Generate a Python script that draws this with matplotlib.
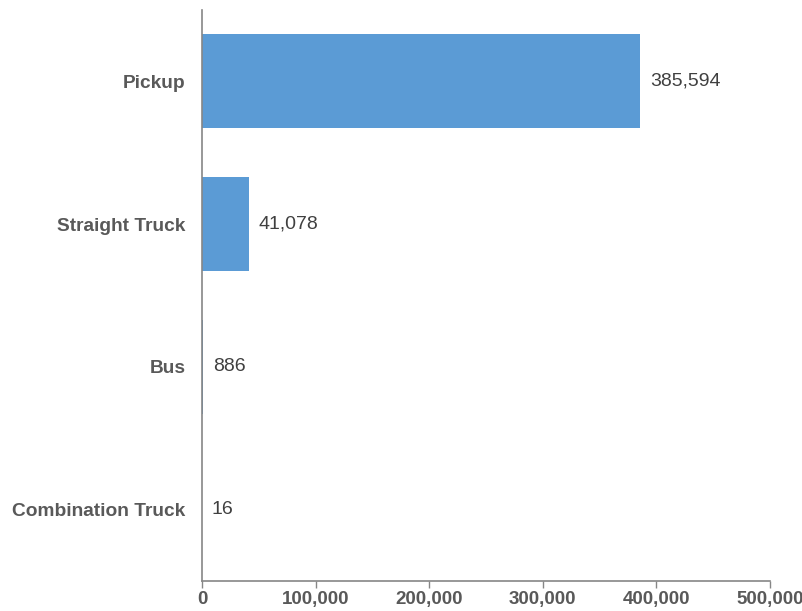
import matplotlib
matplotlib.use("Agg")
import matplotlib.pyplot as plt
from matplotlib.ticker import FuncFormatter

categories = ["Pickup", "Straight Truck", "Bus", "Combination Truck"]
values = [385594, 41078, 886, 16]
x_ticks = [0, 100000, 200000, 300000, 400000, 500000]

plt.rcParams['font.family'] = ['Liberation Sans', 'DejaVu Sans']

fig = plt.figure(figsize=(8.02, 6.11), dpi=100)
ax = fig.add_axes([202/802, 1-581/611, (770-202)/802, (581-10)/611])

bar_color = "#5B9BD5"
ypos = list(range(len(categories)))
ax.barh(ypos, values, height=0.66, color=bar_color)
ax.set_ylim(len(categories)-0.5, -0.5)
ax.set_xlim(0, 500000)
ax.set_xticks(x_ticks)
ax.xaxis.set_major_formatter(FuncFormatter(lambda v, p: f"{int(v):,}"))
ax.set_yticks(ypos)
ax.set_yticklabels(categories)

for lab in ax.get_yticklabels():
    lab.set_fontweight('bold')
    lab.set_fontsize(13.8)
    lab.set_color('#595959')
for lab in ax.get_xticklabels():
    lab.set_fontweight('bold')
    lab.set_fontsize(13.5)
    lab.set_color('#595959')

ax.tick_params(axis='y', length=0, pad=12)
ax.tick_params(axis='x', length=5, width=1, color='#868686', pad=2, direction='out')

for s in ['top', 'right']:
    ax.spines[s].set_visible(False)
for s in ['left', 'bottom']:
    ax.spines[s].set_color('#868686')
    ax.spines[s].set_linewidth(1.2)

for y, v in zip(ypos, values):
    ax.annotate(f"{v:,}", xy=(v, y), xytext=(7, 0), textcoords='offset points',
                va='center', ha='left', fontsize=14, color='#404040')

fig.savefig("out.png", dpi=100)
